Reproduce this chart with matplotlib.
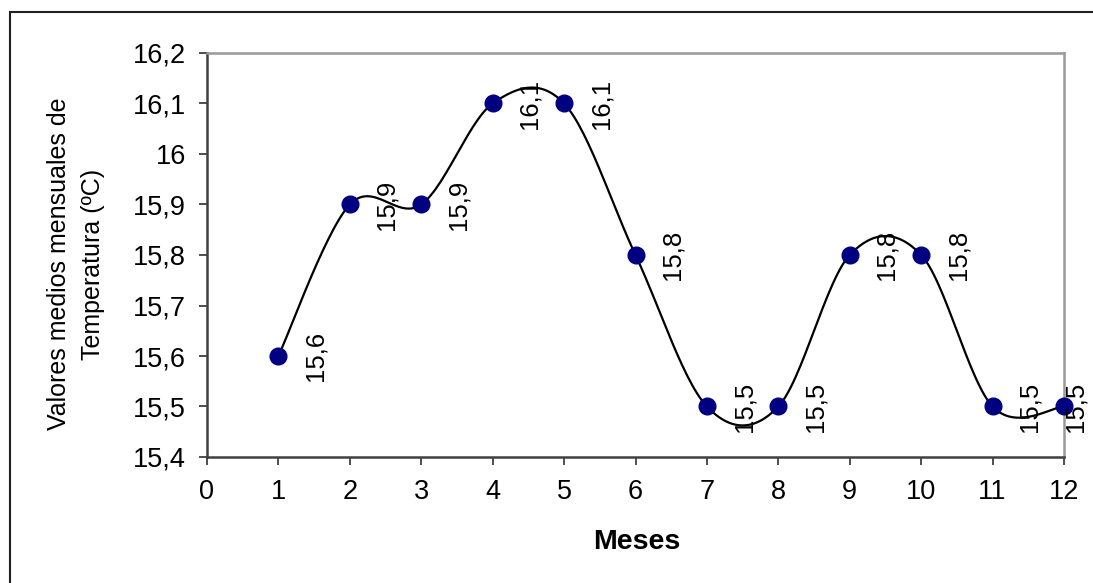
import numpy as np
import matplotlib.pyplot as plt
from matplotlib.patches import Rectangle

meses = [1, 2, 3, 4, 5, 6, 7, 8, 9, 10, 11, 12]
temp = [15.6, 15.9, 15.9, 16.1, 16.1, 15.8, 15.5, 15.5, 15.8, 15.8, 15.5, 15.5]
yticks = [15.4, 15.5, 15.6, 15.7, 15.8, 15.9, 16.0, 16.1, 16.2]
ytick_labels = ['15,4', '15,5', '15,6', '15,7', '15,8', '15,9', '16', '16,1', '16,2']
xticks = list(range(13))

plt.rcParams['font.family'] = ['Liberation Sans', 'DejaVu Sans']


def smooth(x, y, n=30):
    # Catmull-Rom style curve, like Excel's smoothed line
    x = np.asarray(x, float)
    y = np.asarray(y, float)
    px = np.concatenate([[x[0]], x, [x[-1]]])
    py = np.concatenate([[y[0]], y, [y[-1]]])
    xs, ys = [], []
    t = np.linspace(0, 1, n)
    for i in range(1, len(px) - 2):
        p0, p1, p2, p3 = [np.array([px[j], py[j]]) for j in range(i - 1, i + 3)]
        m1 = (p2 - p0) / 2
        m2 = (p3 - p1) / 2
        h00 = 2 * t**3 - 3 * t**2 + 1
        h10 = t**3 - 2 * t**2 + t
        h01 = -2 * t**3 + 3 * t**2
        h11 = t**3 - t**2
        pts = np.outer(h00, p1) + np.outer(h10, m1) + np.outer(h01, p2) + np.outer(h11, m2)
        xs += list(pts[:, 0])
        ys += list(pts[:, 1])
    return xs, ys


fig = plt.figure(figsize=(10.93, 5.83), dpi=100)
ax = fig.add_axes([207 / 1093, 1 - 457 / 583, (1064 - 207) / 1093, (457 - 53) / 583])

# outer frame (runs off the right and bottom edges)
fig.patches.append(Rectangle((10 / 1093, -0.05), 1.1, 1 - 12 / 583 + 0.05,
                             transform=fig.transFigure, fill=False, edgecolor='#202020', lw=1.5))

sx, sy = smooth(meses, temp)
ax.plot(sx, sy, color='black', lw=1.6, zorder=2)
ax.plot(meses, temp, 'o', color='#000080', markersize=12, zorder=4, clip_on=False)

for i, (m, v) in enumerate(zip(meses, temp)):
    dx = 0.16 if i == len(meses) - 1 else 0.52
    ax.text(m + dx, v, f'{v:.1f}'.replace('.', ','), rotation=90, ha='center', va='center',
            fontsize=18.5, clip_on=False, zorder=5)

ax.set_xlim(0, 12)
ax.set_ylim(15.4, 16.2)
ax.set_xticks(xticks)
ax.set_yticks(yticks)
ax.set_yticklabels(ytick_labels)
ax.tick_params(axis='both', labelsize=19.5, direction='out', length=6, width=1.2, color='#303030')
ax.tick_params(axis='x', pad=10)
ax.tick_params(axis='y', pad=9)

for s in ['left', 'bottom']:
    ax.spines[s].set_color('#404040')
    ax.spines[s].set_linewidth(1.8)
for s in ['top', 'right']:
    ax.spines[s].set_color('#999999')
    ax.spines[s].set_linewidth(1.8)

ax.set_xlabel('Meses', fontsize=20.5, fontweight='bold')
ax.xaxis.set_label_coords((637 - 207) / 857, (457 - 542) / 404)
ax.xaxis.label.set_va('center')
ax.set_ylabel('Valores medios mensuales de\nTemperatura (ºC)', fontsize=18, linespacing=1.5)
ax.yaxis.set_label_coords((76 - 207) / 857, (457 - 264) / 404)
ax.yaxis.label.set_va('center')

fig.savefig('out.png', dpi=100)
